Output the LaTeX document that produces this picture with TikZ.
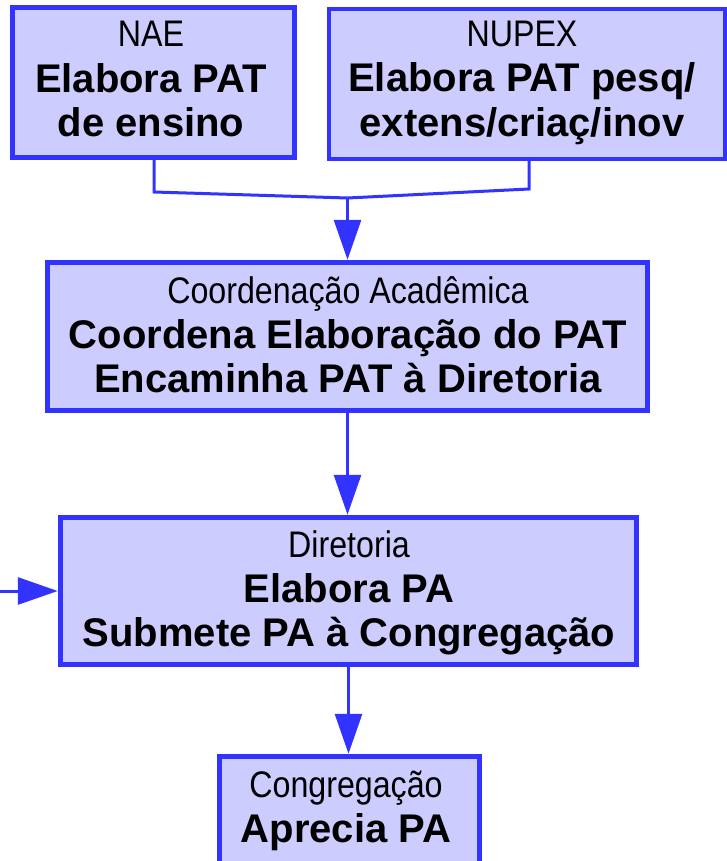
\documentclass[tikz,border=0pt]{standalone}
\usepackage{fontspec}
\setmainfont{Liberation Sans}
\newfontfamily\regf[FakeStretch=0.87]{Liberation Sans}
\usetikzlibrary{arrows.meta}
\definecolor{boxfill}{HTML}{CCCCFF}
\definecolor{boxline}{HTML}{3333FF}
\newcommand{\rtxt}{\regf\fontsize{37}{45}\selectfont}
\newcommand{\btxt}{\bfseries\fontsize{40}{45}\selectfont}
\tikzset{
  box/.style={draw=boxline, fill=boxfill, line width=5.5pt, inner sep=0pt},
  thinbox/.style={box, line width=4pt},
  lbl/.style={anchor=base, inner sep=0pt, text=black},
  conn/.style={draw=boxline, line width=3pt},
  arr/.style={conn, -{Triangle[length=40pt,width=27pt]}},
}
\begin{document}
\begin{tikzpicture}[x=1pt,y=-1pt]
\useasboundingbox (0,0) rectangle (727,861);
% boxes
\node[box, minimum width=282pt, minimum height=150pt] (nae) at (153.5,82.5) {};
\node[thinbox, minimum width=396.5pt, minimum height=150.5pt] (nupex) at (527,84) {};
\node[box, minimum width=600pt, minimum height=148pt] (coord) at (347.5,336.5) {};
\node[box, minimum width=576pt, minimum height=147pt] (dir) at (348.5,591) {};
\node[box, minimum width=260pt, minimum height=114pt] (cong) at (349.5,813.5) {};
% texts
\node[lbl] (t1) at (151,47) {\rtxt NAE};
\node[lbl] (t2) at (151,93) {\btxt Elabora PAT};
\node[lbl] (t3) at (151,137) {\btxt de ensino};
\node[lbl] (t4) at (522,47) {\rtxt NUPEX};
\node[lbl] (t5) at (522,92) {\btxt Elabora PAT pesq/};
\node[lbl] (t6) at (522,137) {\btxt extens/criaç/inov};
\node[lbl] (t7) at (348,303) {\rtxt Coordenação Acadêmica};
\node[lbl] (t8) at (348,348) {\btxt Coordena Elaboração do PAT};
\node[lbl] (t9) at (348,392) {\btxt Encaminha PAT à Diretoria};
\node[lbl] (t10) at (349,557) {\rtxt Diretoria};
\node[lbl] (t11) at (349,602) {\btxt Elabora PA};
\node[lbl] (t12) at (349,646) {\btxt Submete PA à Congregação};
\node[lbl] (t13) at (346,797) {\rtxt Congregação};
\node[lbl] (t14) at (346,842) {\btxt Aprecia PA};
% connectors
\coordinate (a1) at (154,192);
\coordinate (a2) at (529,189);
\coordinate (j) at (347.5,198);
\coordinate (lin) at (0,591);
\draw[conn] (a1 |- nae.south) -- (a1) -- (j);
\draw[conn] (a2 |- nupex.south) -- (a2) -- (j);
\draw[arr] (j) -- (coord.north);
\draw[arr] (coord.south) -- (coord.south |- dir.north);
\draw[arr] (dir.south) -- (dir.south |- cong.north);
\draw[arr] (lin) -- (lin -| dir.west);
\end{tikzpicture}
\end{document}
